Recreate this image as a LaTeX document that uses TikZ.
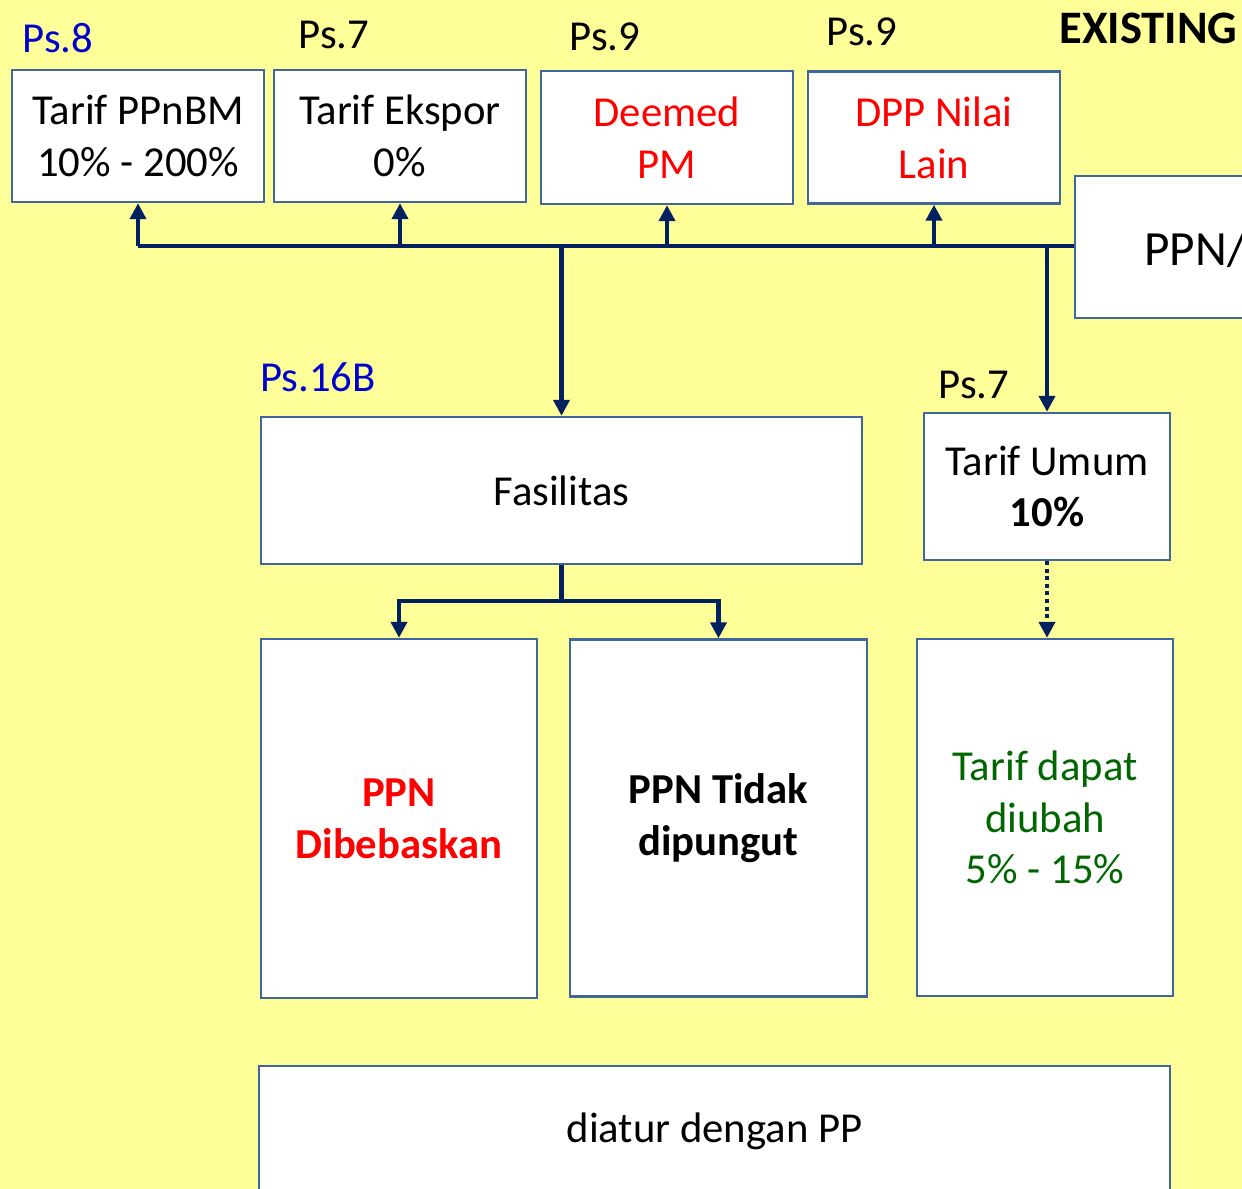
\documentclass[tikz,border=0pt]{standalone}
\usepackage{fontspec}
\setmainfont{Carlito}
\usetikzlibrary{arrows.meta}
\definecolor{bgyellow}{HTML}{FFFF99}
\definecolor{boxline}{HTML}{41669E}
\definecolor{arrcol}{HTML}{002060}
\definecolor{psblue}{HTML}{0000CC}
\definecolor{txtred}{HTML}{FF0000}
\definecolor{txtgreen}{HTML}{006600}
\tikzset{
  box/.style={draw=boxline, line width=1.4pt, fill=white, align=center, inner sep=0pt,
    font=\fontsize{24.3}{29.5}\selectfont},
  lbl/.style={font=\fontsize{24.3}{29.5}\selectfont, inner sep=0pt},
  conn/.style={draw=arrcol, line width=2.3pt},
  arr/.style={conn, -{Triangle[width=0.32cm,length=0.32cm]}},
}
\begin{document}
\begin{tikzpicture}[x=0.02cm, y=-0.02cm]
\useasboundingbox (0,0) rectangle (1242,1189);
\clip (0,0) rectangle (1242,1189);
\fill[bgyellow] (0,0) rectangle (1242,1189);

% top boxes
\node[box, minimum width=5.04cm, minimum height=2.64cm] (ppnbm) at (138,136) {Tarif PPnBM\\10\% - 200\%};
\node[box, minimum width=5.04cm, minimum height=2.64cm] (ekspor) at (400,136) {Tarif Ekspor\\0\%};
\node[box, minimum width=5.04cm, minimum height=2.66cm, text=txtred] (deemed) at (667,137.5) {Deemed\\PM};
\node[box, minimum width=5.04cm, minimum height=2.64cm, text=txtred] (dpp) at (934,137.5) {DPP Nilai\\Lain};
\node[box, minimum width=4.9cm, minimum height=2.84cm] (ppn) at (1197.5,247) {};
\node[lbl, anchor=west, font=\fontsize{28}{30}\selectfont] (ppntxt) at (1144,249) {PPN/};

% labels
\node[lbl, text=psblue] (ps8) at (58,38) {Ps.8};
\node[lbl] (ps7a) at (334,35) {Ps.7};
\node[lbl] (ps9a) at (605,37) {Ps.9};
\node[lbl] (ps9b) at (862,32) {Ps.9};
\node[lbl, anchor=west, font=\fontsize{26.5}{30}\selectfont\bfseries] (exist) at (1059,28) {EXISTING};
\node[lbl, text=psblue] (ps16b) at (318,377) {Ps.16B};
\node[lbl] (ps7b) at (974,385) {Ps.7};

% middle boxes
\node[box, minimum width=12.02cm, minimum height=2.94cm] (fas) at (561.5,490.5) {Fasilitas};
\node[box, minimum width=4.92cm, minimum height=2.94cm] (umum) at (1047,486.5) {Tarif Umum\\\textbf{10\%}};

% lower boxes
\node[box, minimum width=5.52cm, minimum height=7.18cm, text=txtred, font=\fontsize{24.3}{29.5}\selectfont\bfseries] (dib) at (399,818.5) {PPN\\Dibebaskan};
\node[box, minimum width=5.94cm, minimum height=7.14cm, font=\fontsize{24.3}{29.5}\selectfont\bfseries] (tidak) at (718.5,818) {PPN Tidak\\dipungut};
\node[box, minimum width=5.12cm, minimum height=7.14cm, text=txtgreen] (ubah) at (1045,817.5) {Tarif dapat\\diubah\\5\% - 15\%};
\node[box, minimum width=18.22cm, minimum height=2.6cm] (pp) at (714.5,1131) {diatur dengan PP};

% bus
\coordinate (busL) at (138,246);
\coordinate (split) at (562,601);
\draw[conn] (busL) -- (ppn.west |- busL);
\draw[arr] (ppnbm.south |- busL) -- (ppnbm.south);
\draw[arr] (ekspor.south |- busL) -- (ekspor.south);
\draw[arr] (deemed.south |- busL) -- (deemed.south);
\draw[arr] (dpp.south |- busL) -- (dpp.south);
\draw[arr] (fas.north |- busL) -- (fas.north);
\draw[arr] (umum.north |- busL) -- (umum.north);

% fasilitas branches
\draw[conn] (fas.south) -- (fas.south |- split);
\draw[arr] (fas.south |- split) -| (dib.north);
\draw[arr] (fas.south |- split) -| (tidak.north);

% dotted
\draw[arr, dotted] (umum.south) -- (umum.south |- ubah.north);
\end{tikzpicture}
\end{document}
